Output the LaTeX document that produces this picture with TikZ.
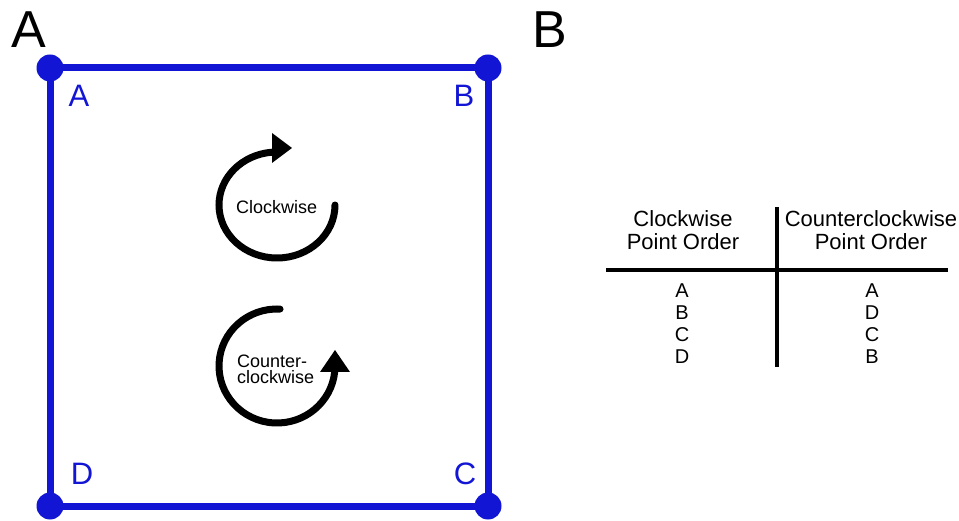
\documentclass[tikz,border=0pt]{standalone}
\usepackage{fontspec}
\setmainfont{Liberation Sans}
\usetikzlibrary{calc}
\definecolor{sqblue}{RGB}{18,22,212}
\begin{document}
\begin{tikzpicture}[x=1pt,y=1pt,
  edge/.style={draw=sqblue, line width=7pt, line join=miter},
  dot/.style={circle, fill=sqblue, minimum size=27pt, inner sep=0pt},
  corner/.style={text=sqblue, font=\fontsize{31}{31}\selectfont, inner sep=0pt},
  panel/.style={font=\fontsize{52}{52}\selectfont, inner sep=0pt, anchor=base},
  rot/.style={line width=7pt, line cap=round},
  rotlabel/.style={font=\fontsize{18}{18}\selectfont, inner sep=0pt, anchor=base west},
  head/.style={font=\fontsize{22}{22}\selectfont, inner sep=0pt, anchor=base},
  entry/.style={font=\fontsize{20}{20}\selectfont, inner sep=0pt, anchor=base},
  rule/.style={line width=3.5pt}
]
\useasboundingbox (0,0) rectangle (959,520);
% panel letters
\node[panel] (panelA) at (29,472) {A};
\node[panel] (panelB) at (550,472) {B};
% square
\coordinate (pA) at (50,452);
\coordinate (pB) at (488,452);
\coordinate (pC) at (488,14);
\coordinate (pD) at (50,14);
\draw[edge] (pA) -- (pB) -- (pC) -- (pD) -- cycle;
\node[dot] (dA) at (pA) {};
\node[dot] (dB) at (pB) {};
\node[dot] (dC) at (pC) {};
\node[dot] (dD) at (pD) {};
\node[corner] (lA) at (79,424) {A};
\node[corner] (lB) at (464,424) {B};
\node[corner] (lC) at (465,46) {C};
\node[corner] (lD) at (82,46) {D};
% clockwise arrow
\draw[rot] (335,315) arc[start angle=0, end angle=-265, x radius=58, y radius=53];
\fill (272,387) -- (292,372) -- (272,357) -- cycle;
\node[rotlabel] (cw) at (236,306) {Clockwise};
% counterclockwise arrow
\draw[rot] ($(277,154)+(87:58 and 57)$) arc[start angle=87, end angle=354, x radius=58, y radius=57];
\fill (320,148) -- (350,148) -- (335,170) -- cycle;
\node[rotlabel] (ccw1) at (237,153) {Counter-};
\node[rotlabel] (ccw2) at (237,136) {clockwise};
% table
\coordinate (vt) at (777,313);
\coordinate (vb) at (777,153);
\coordinate (hl) at (606,250);
\coordinate (hr) at (948,250);
\draw[rule] (vt) -- (vb);
\draw[rule] (hl) -- (hr);
\node[head] (h1a) at (683,293) {Clockwise};
\node[head] (h1b) at (683,270) {Point Order};
\node[head] (h2a) at (871,293) {Counterclockwise};
\node[head] (h2b) at (871,270) {Point Order};
\node[entry] (c1) at (682,222) {A};
\node[entry] (c2) at (682,200) {B};
\node[entry] (c3) at (682,178) {C};
\node[entry] (c4) at (682,156) {D};
\node[entry] (k1) at (872,222) {A};
\node[entry] (k2) at (872,200) {D};
\node[entry] (k3) at (872,178) {C};
\node[entry] (k4) at (872,156) {B};
\end{tikzpicture}
\end{document}
